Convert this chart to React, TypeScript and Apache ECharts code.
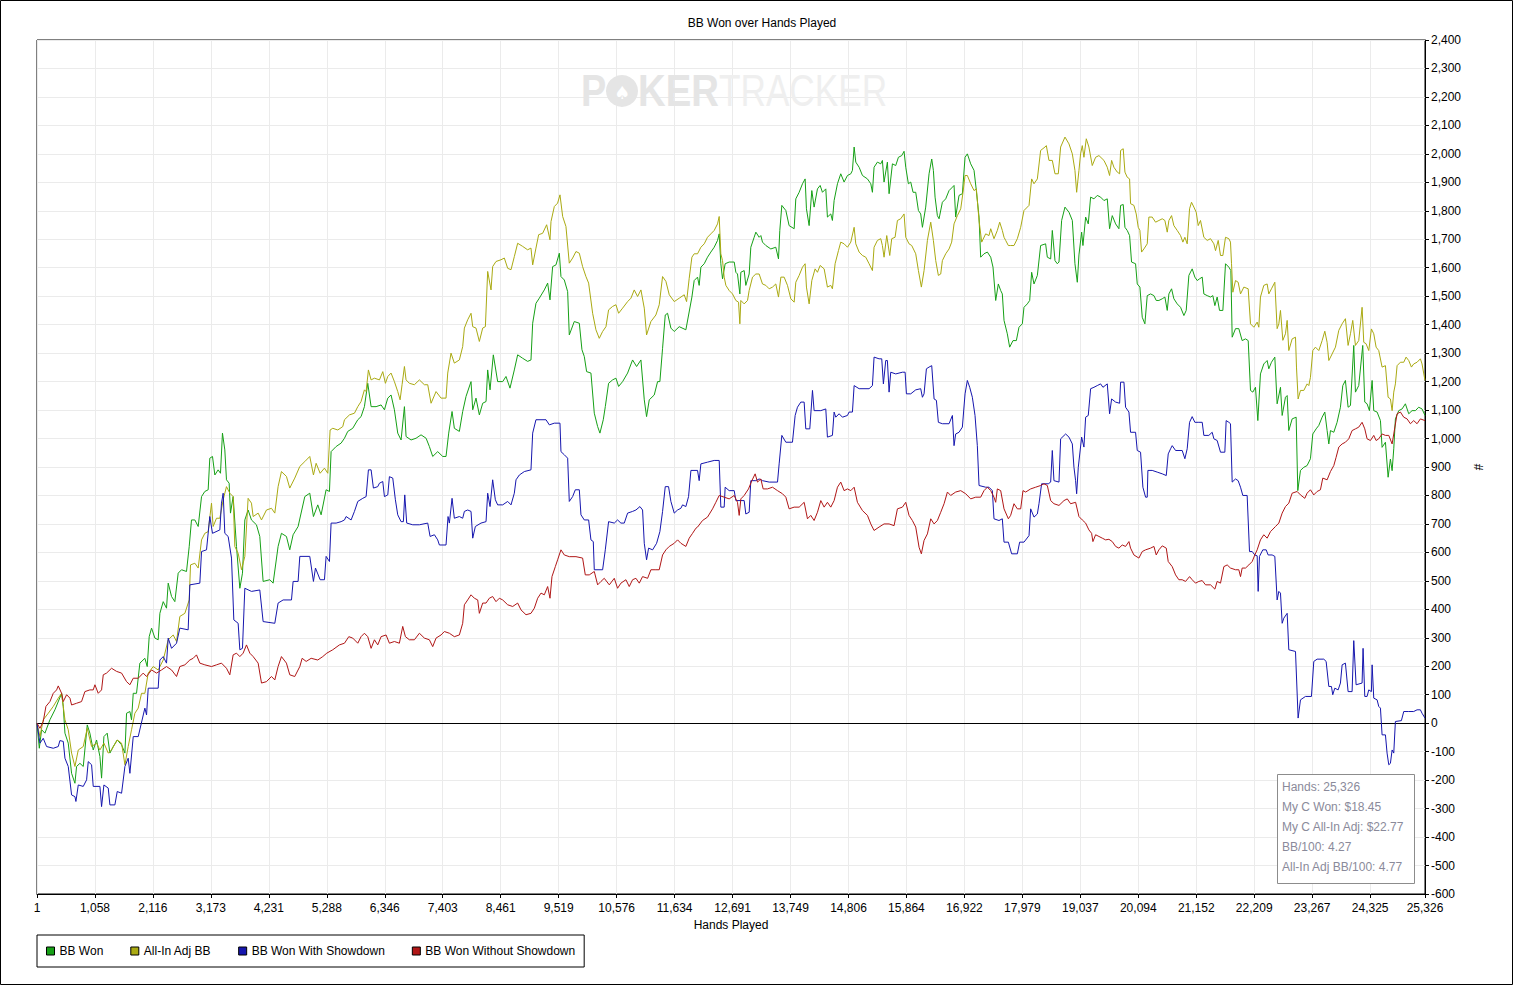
import React, { useEffect, useRef } from "react";
import * as echarts from "echarts";

const TITLE = "BB Won over Hands Played";
const X_NAME = "Hands Played";
const Y_NAME = "#";
const HANDS_MIN = 1;
const HANDS_MAX = 25326;
const HAND_TICK_STEP = 24324 / 23;
const Y_MIN = -600;
const Y_MAX = 2400;
const Y_STEP = 100;
const FONT = '"Liberation Sans", Arial, sans-serif';

const SERIES_NAMES = ["BB Won", "All-In Adj BB", "BB Won With Showdown", "BB Won Without Showdown"];
const SERIES_COLORS = ["#16a016", "#aaaa12", "#1616ae", "#b01616"];

const INFO_LINES = [
  "Hands: 25,326",
  "My C Won: $18.45",
  "My C All-In Adj: $22.77",
  "BB/100: 4.27",
  "All-In Adj BB/100: 4.77",
];

// [hand, BB]
const BB_WON: [number, number][] = [
  [1, 0], [43, -88], [85, -23], [146, -35], [237, 12], [328, 47], [450, 105], [480, 59], [511, -35], [571, -70],
  [632, -176], [693, -211], [723, -152], [784, -141], [845, -152], [918, -6], [966, -35], [1027, -94], [1088, -59],
  [1149, -117], [1179, -193], [1222, -47], [1282, -35], [1331, -105], [1392, -82], [1465, -59], [1544, -76],
  [1605, -105], [1635, 35], [1696, 41], [1726, 12], [1757, 105], [1817, 105], [1878, 211], [1969, 228], [2012, 199],
  [2048, 304], [2091, 334], [2152, 299], [2212, 293], [2243, 386], [2304, 427], [2364, 404], [2395, 492], [2456, 445],
  [2516, 427], [2577, 527], [2638, 539], [2729, 533], [2778, 620], [2820, 714], [2881, 714], [2942, 691], [3003, 796],
  [3063, 814], [3124, 820], [3154, 931], [3203, 937], [3246, 872], [3306, 890], [3349, 878], [3385, 1019], [3428, 960],
  [3458, 855], [3507, 843], [3531, 738], [3580, 796], [3641, 621], [3702, 474], [3750, 527], [3793, 714], [3853, 749],
  [3914, 714], [4005, 697], [4066, 656], [4127, 498], [4249, 504], [4309, 492], [4400, 621], [4461, 667], [4552, 656],
  [4613, 609], [4674, 662], [4765, 691], [4887, 796], [4978, 808],
  [5045, 726], [5124, 767], [5185, 732], [5276, 820], [5337, 814], [5367, 954], [5459, 972], [5550, 984], [5611, 1001],
  [5671, 1025], [5762, 1036], [5854, 1066], [5914, 1077], [5975, 1112], [6036, 1194], [6097, 1112], [6188, 1112],
  [6279, 1118], [6340, 1101], [6401, 1142], [6461, 1153], [6522, 1101], [6583, 1019], [6644, 995], [6705, 1112],
  [6735, 1007], [6826, 995], [6917, 1001], [7008, 1013], [7100, 1001], [7160, 972], [7221, 937], [7312, 954],
  [7404, 937], [7464, 937], [7513, 1019], [7574, 1095], [7616, 1036], [7707, 1025], [7768, 1095], [7829, 1148],
  [7920, 1200], [7951, 1101], [8011, 1142], [8072, 1083], [8133, 1124], [8194, 1130], [8224, 1241], [8267, 1171],
  [8327, 1294], [8406, 1200], [8498, 1200], [8558, 1218], [8631, 1177], [8710, 1241], [8771, 1294], [8862, 1282],
  [8953, 1271], [9014, 1276], [9045, 1405], [9105, 1475], [9166, 1493], [9257, 1522], [9318, 1546], [9361, 1487],
  [9409, 1604], [9470, 1610], [9531, 1651], [9561, 1569], [9622, 1557], [9683, 1516], [9713, 1364], [9804, 1411],
  [9896, 1405], [9944, 1312], [9987, 1288], [10029, 1235], [10108, 1230], [10169, 1089], [10230, 1042], [10272, 1019],
  [10333, 1066], [10370, 1112], [10430, 1194], [10503, 1206], [10564, 1212], [10613, 1183], [10686, 1200],
  [10777, 1230], [10868, 1276], [10941, 1253], [11020, 1276], [11081, 1136], [11123, 1077], [11172, 1136],
  [11263, 1153], [11324, 1200], [11366, 1200], [11415, 1317], [11464, 1434], [11506, 1440], [11567, 1388],
  [11628, 1376], [11719, 1393], [11840, 1382], [11950, 1497], [11992, 1555], [12053, 1567], [12083, 1538],
  [12114, 1602], [12175, 1614], [12235, 1637], [12296, 1655], [12357, 1672], [12418, 1696], [12448, 1719],
  [12478, 1614], [12509, 1561], [12557, 1614], [12630, 1620], [12722, 1620], [12752, 1584], [12782, 1578],
  [12825, 1508], [12843, 1584], [12904, 1590], [12934, 1538], [12995, 1578], [13025, 1672], [13086, 1707],
  [13117, 1725], [13177, 1707], [13208, 1713], [13238, 1690], [13299, 1678], [13390, 1666], [13481, 1672],
  [13530, 1631], [13554, 1731], [13591, 1819], [13664, 1801], [13724, 1748], [13816, 1737], [13846, 1842],
  [13907, 1865], [13968, 1895], [14016, 1912], [14040, 1807], [14089, 1748], [14138, 1871], [14180, 1813],
  [14241, 1877], [14290, 1889], [14332, 1865], [14393, 1877], [14423, 1778], [14484, 1789], [14514, 1766],
  [14545, 1836], [14606, 1895], [14666, 1930], [14727, 1901], [14788, 1924], [14849, 1930], [14879, 1942],
  [14910, 2024], [14940, 1971], [15001, 1953], [15062, 1924], [15153, 1912], [15214, 1895], [15244, 1865],
  [15274, 1953], [15335, 1971], [15396, 1965], [15426, 1977], [15456, 1901], [15517, 1971], [15548, 1860],
  [15609, 1965], [15669, 1959], [15718, 1988], [15779, 1994], [15821, 2009], [15852, 1953], [15900, 1895],
  [15943, 1901], [15985, 1865], [16034, 1865], [16083, 1801], [16125, 1789], [16156, 1742], [16216, 1813],
  [16277, 1930], [16326, 1982], [16356, 1942], [16387, 1848], [16429, 1783], [16460, 1772], [16520, 1830],
  [16581, 1842], [16642, 1871], [16703, 1883], [16733, 1889], [16763, 1778], [16824, 1854], [16885, 1860],
  [16934, 1988], [16976, 2000], [17037, 1965], [17098, 1942], [17140, 1871], [17189, 1778], [17219, 1637],
  [17280, 1649], [17341, 1655], [17402, 1637], [17444, 1602], [17493, 1485], [17541, 1543], [17584, 1520],
  [17614, 1508], [17645, 1415], [17705, 1368], [17748, 1321], [17809, 1344], [17870, 1344], [17918, 1391],
  [17979, 1403], [18009, 1461], [18070, 1473], [18113, 1485], [18149, 1584], [18192, 1543], [18253, 1573],
  [18313, 1678], [18404, 1684], [18435, 1637], [18496, 1631], [18526, 1731], [18575, 1625], [18617, 1614],
  [18648, 1620], [18696, 1766], [18757, 1813], [18830, 1795], [18891, 1766], [18939, 1614], [18982, 1549],
  [19012, 1645], [19061, 1725], [19085, 1678], [19134, 1778], [19182, 1754], [19225, 1848], [19286, 1842],
  [19346, 1854], [19407, 1848], [19468, 1836], [19529, 1842], [19571, 1737], [19620, 1783], [19681, 1754],
  [19741, 1737], [19772, 1819], [19820, 1822], [19851, 1742], [19893, 1731], [19936, 1713], [19972, 1620],
  [20045, 1614], [20076, 1543], [20124, 1532], [20167, 1426], [20215, 1403], [20258, 1502], [20319, 1508],
  [20380, 1502], [20422, 1485], [20471, 1485], [20532, 1491], [20580, 1497], [20623, 1450], [20653, 1508],
  [20702, 1526], [20744, 1491], [20805, 1473], [20866, 1461], [20927, 1432], [20969, 1450], [21018, 1573],
  [21078, 1596], [21127, 1567], [21170, 1555], [21212, 1561], [21261, 1567], [21291, 1508], [21352, 1502],
  [21413, 1497], [21455, 1502], [21492, 1467], [21534, 1497], [21577, 1450], [21638, 1450], [21686, 1614],
  [21747, 1602], [21784, 1590], [21808, 1356], [21869, 1386], [21929, 1386], [21990, 1344], [22051, 1350],
  [22100, 1344], [22142, 1169], [22185, 1163], [22233, 1180], [22276, 1063], [22324, 1227], [22385, 1262],
  [22446, 1274], [22476, 1245], [22525, 1268], [22586, 1286], [22628, 1122], [22689, 1180], [22720, 1081],
  [22780, 1145], [22811, 1151], [22841, 1028], [22902, 1069], [22975, 1075], [23005, 817], [23054, 888],
  [23115, 899], [23175, 905], [23236, 929], [23279, 1016], [23340, 1034], [23388, 1046], [23449, 1075],
  [23498, 1093], [23540, 1028], [23571, 981], [23601, 1028], [23662, 1022], [23722, 1057], [23783, 1110],
  [23826, 1186], [23874, 1204], [23923, 1110], [23966, 1116], [24026, 1327], [24057, 1163], [24117, 1186],
  [24190, 1327], [24227, 1128], [24269, 1122], [24312, 1098], [24361, 1204], [24391, 1098], [24452, 1093],
  [24513, 1063], [24543, 969], [24604, 987], [24653, 864], [24695, 928], [24726, 887], [24756, 964], [24786, 1069],
  [24847, 1098], [24908, 1104], [24968, 1122], [25029, 1087], [25090, 1098], [25151, 1098], [25211, 1110],
  [25272, 1104], [25326, 1081],
];

const ALL_IN_ADJ: [number, number][] = [
  [1, 0], [55, -47], [115, 12], [207, 35], [298, 59], [389, 88], [450, 105], [511, 12], [571, -23], [632, -105],
  [693, -152], [754, -94], [845, -82], [918, -18], [997, -82], [1088, -70], [1149, -94], [1222, -70], [1301, -105],
  [1361, -94], [1465, -59], [1544, -70], [1605, -146], [1665, -82], [1726, -23], [1787, 35], [1848, 53], [1908, 105],
  [1969, 105], [2030, 176], [2121, 199], [2212, 187], [2304, 222], [2395, 293], [2486, 310], [2547, 287], [2607, 375],
  [2699, 386], [2778, 433], [2802, 556], [2881, 562], [2942, 545], [3003, 644], [3063, 667], [3124, 673], [3185, 773],
  [3215, 691], [3276, 720], [3337, 720], [3398, 785], [3458, 831], [3519, 808], [3580, 796], [3610, 621], [3671, 597],
  [3732, 539], [3793, 586], [3853, 790], [3914, 773], [3945, 726], [4036, 738], [4097, 714], [4188, 749], [4279, 755],
  [4340, 738], [4400, 831], [4461, 884], [4552, 867], [4613, 826], [4704, 861], [4796, 902], [4887, 919], [4978, 937],
  [5045, 872], [5094, 913], [5167, 878], [5246, 896], [5307, 878], [5349, 1030], [5398, 1036], [5489, 1030],
  [5580, 1042], [5611, 1066], [5702, 1083], [5793, 1089], [5854, 1112], [5914, 1130], [5975, 1171], [6006, 1165],
  [6048, 1241], [6097, 1206], [6158, 1212], [6249, 1206], [6310, 1235], [6358, 1194], [6401, 1218], [6461, 1230],
  [6522, 1200], [6583, 1165], [6626, 1136], [6662, 1189], [6705, 1253], [6735, 1206], [6796, 1194], [6887, 1189],
  [6978, 1206], [7069, 1189], [7130, 1189], [7191, 1124], [7282, 1165], [7373, 1142], [7464, 1142], [7495, 1230],
  [7555, 1300], [7616, 1265], [7707, 1276], [7768, 1323], [7799, 1388], [7859, 1417], [7920, 1440], [7951, 1393],
  [8011, 1388], [8072, 1341], [8133, 1388], [8182, 1393], [8224, 1587], [8285, 1522], [8315, 1604], [8376, 1622],
  [8467, 1628], [8528, 1634], [8589, 1598], [8650, 1593], [8710, 1639], [8771, 1686], [8862, 1675], [8953, 1663],
  [9014, 1669], [9045, 1610], [9105, 1669], [9154, 1716], [9227, 1721], [9300, 1751], [9361, 1698], [9379, 1762],
  [9440, 1815], [9500, 1827], [9543, 1856], [9592, 1780], [9652, 1745], [9713, 1616], [9774, 1634], [9835, 1657],
  [9896, 1651], [9956, 1604], [10017, 1569], [10066, 1546], [10139, 1440], [10199, 1382], [10260, 1352],
  [10321, 1376], [10382, 1393], [10430, 1452], [10503, 1464], [10564, 1470], [10613, 1440], [10686, 1458],
  [10777, 1481], [10838, 1493], [10898, 1522], [10959, 1499], [11020, 1522], [11081, 1458], [11123, 1364],
  [11202, 1411], [11293, 1434], [11354, 1470], [11415, 1569], [11476, 1552], [11537, 1505], [11628, 1481],
  [11719, 1493], [11810, 1505], [11853, 1481], [11901, 1563], [11950, 1637], [11992, 1649], [12053, 1649],
  [12114, 1672], [12175, 1684], [12235, 1707], [12296, 1719], [12357, 1731], [12418, 1754], [12448, 1780],
  [12478, 1649], [12509, 1625], [12539, 1567], [12570, 1538], [12630, 1520], [12691, 1508], [12752, 1485],
  [12801, 1479], [12825, 1403], [12843, 1485], [12904, 1473], [12965, 1485], [12995, 1520], [13056, 1567],
  [13117, 1578], [13177, 1578], [13238, 1543], [13299, 1538], [13360, 1526], [13421, 1532], [13481, 1543],
  [13530, 1497], [13573, 1567], [13633, 1567], [13694, 1538], [13755, 1491], [13816, 1479], [13846, 1549],
  [13907, 1573], [13968, 1602], [14016, 1614], [14040, 1532], [14089, 1473], [14138, 1555], [14198, 1596],
  [14241, 1584], [14290, 1608], [14363, 1596], [14423, 1532], [14484, 1538], [14514, 1526], [14563, 1614],
  [14624, 1660], [14666, 1690], [14727, 1684], [14788, 1672], [14849, 1690], [14910, 1742], [14940, 1684],
  [15001, 1655], [15062, 1643], [15122, 1637], [15183, 1614], [15244, 1590], [15274, 1672], [15335, 1696],
  [15396, 1702], [15426, 1678], [15456, 1637], [15505, 1713], [15560, 1643], [15596, 1702], [15657, 1707],
  [15700, 1766], [15760, 1772], [15821, 1789], [15852, 1707], [15912, 1684], [15961, 1678], [16034, 1649],
  [16083, 1590], [16137, 1532], [16186, 1590], [16247, 1696], [16308, 1760], [16356, 1696], [16399, 1625],
  [16447, 1573], [16490, 1578], [16520, 1625], [16581, 1649], [16642, 1666], [16690, 1690], [16733, 1754],
  [16794, 1783], [16855, 1807], [16897, 1865], [16934, 1924], [16976, 1924], [17037, 1895], [17098, 1871],
  [17140, 1877], [17189, 1766], [17238, 1690], [17310, 1719], [17371, 1713], [17402, 1737], [17462, 1702],
  [17523, 1731], [17566, 1760], [17614, 1731], [17645, 1707], [17675, 1696], [17724, 1678], [17766, 1678],
  [17827, 1678], [17888, 1702], [17949, 1742], [18009, 1801], [18101, 1819], [18149, 1912], [18192, 1895],
  [18253, 1912], [18313, 2012], [18392, 2024], [18417, 2029], [18465, 1977], [18526, 1977], [18575, 1930],
  [18635, 1930], [18678, 2024], [18757, 2059], [18830, 2035], [18891, 2000], [18939, 1942], [18970, 1865],
  [19012, 1942], [19042, 2000], [19073, 2029], [19103, 1988], [19146, 2053], [19194, 2024], [19255, 1959],
  [19316, 1988], [19377, 1994], [19468, 1977], [19529, 1953], [19571, 1924], [19608, 1977], [19650, 1953],
  [19711, 1936], [19754, 1930], [19772, 2012], [19820, 2018], [19851, 1936], [19893, 1918], [19936, 1912],
  [19954, 1825], [20015, 1819], [20057, 1789], [20094, 1742], [20124, 1731], [20155, 1655], [20197, 1666],
  [20258, 1684], [20288, 1778], [20349, 1778], [20410, 1760], [20471, 1766], [20532, 1772], [20580, 1766],
  [20623, 1725], [20653, 1766], [20702, 1783], [20744, 1748], [20805, 1731], [20866, 1713], [20908, 1690],
  [20945, 1707], [20987, 1684], [21030, 1807], [21066, 1830], [21109, 1813], [21152, 1795], [21188, 1748],
  [21230, 1766], [21291, 1707], [21352, 1696], [21413, 1702], [21474, 1684], [21504, 1660], [21553, 1696],
  [21595, 1643], [21638, 1643], [21686, 1707], [21747, 1702], [21777, 1690], [21796, 1614], [21820, 1514],
  [21869, 1555], [21917, 1549], [21960, 1508], [22021, 1532], [22100, 1526], [22142, 1403], [22203, 1391],
  [22264, 1409], [22294, 1391], [22324, 1497], [22385, 1538], [22446, 1543], [22476, 1508], [22525, 1526],
  [22586, 1549], [22628, 1386], [22659, 1403], [22689, 1450], [22732, 1345], [22780, 1368], [22811, 1415],
  [22841, 1309], [22902, 1350], [22963, 1356], [22981, 1251], [23011, 1139], [23054, 1169], [23115, 1169],
  [23175, 1192], [23206, 1186], [23236, 1215], [23279, 1309], [23327, 1321], [23388, 1309], [23449, 1344],
  [23498, 1377], [23540, 1338], [23571, 1274], [23631, 1297], [23692, 1321], [23753, 1380], [23814, 1403],
  [23874, 1421], [23923, 1327], [23966, 1368], [24008, 1415], [24057, 1327], [24117, 1344], [24178, 1461],
  [24209, 1338], [24251, 1333], [24300, 1309], [24348, 1385], [24391, 1368], [24434, 1321], [24482, 1309],
  [24543, 1251], [24604, 1256], [24653, 1145], [24695, 1139], [24726, 1098], [24756, 1163], [24786, 1192],
  [24817, 1256], [24877, 1268], [24938, 1268], [24981, 1286], [25029, 1274], [25078, 1251], [25120, 1262],
  [25181, 1268], [25242, 1280], [25272, 1262], [25326, 1204],
];

const WITH_SHOWDOWN: [number, number][] = [
  [1, 0], [55, -70], [115, -53], [176, -82], [298, -88], [389, -82], [419, -61], [480, -64], [511, -123], [571, -152],
  [632, -252], [693, -258], [711, -275], [754, -217], [845, -222], [906, -199], [936, -135], [997, -146], [1027, -222],
  [1149, -222], [1179, -293], [1222, -217], [1301, -228], [1331, -287], [1422, -287], [1465, -240], [1544, -246],
  [1605, -152], [1665, -123], [1696, -176], [1757, -47], [1848, -47], [1969, 53], [2000, 29], [2030, 123], [2212, 123],
  [2243, 222], [2304, 234], [2364, 211], [2395, 299], [2456, 263], [2547, 281], [2607, 334], [2759, 328], [2790, 486],
  [2972, 492], [3003, 603], [3094, 609], [3154, 726], [3203, 667], [3337, 679], [3367, 773], [3398, 808], [3428, 667],
  [3489, 656], [3550, 580], [3592, 363], [3671, 351], [3702, 258], [3750, 263], [3793, 474], [3914, 463], [4066, 468],
  [4127, 357], [4340, 351], [4400, 422], [4492, 433], [4644, 433], [4674, 498], [4765, 498], [4796, 586], [4978, 586],
  [5045, 498], [5082, 545], [5167, 504], [5246, 504], [5276, 586], [5337, 568], [5367, 703], [5459, 703], [5550, 708],
  [5611, 714], [5641, 726], [5732, 714], [5793, 744], [5854, 779], [5945, 790], [6006, 796], [6048, 890], [6097, 890],
  [6139, 826], [6218, 831], [6249, 843], [6310, 849], [6340, 796], [6401, 802], [6431, 866], [6492, 861], [6540, 785],
  [6583, 732], [6644, 708], [6686, 708], [6711, 802], [6747, 703], [6857, 697], [6978, 697], [7130, 703], [7173, 656],
  [7252, 662], [7312, 644], [7343, 626], [7464, 626], [7501, 726], [7525, 703], [7574, 790], [7616, 720], [7707, 726],
  [7768, 720], [7799, 744], [7859, 749], [7920, 744], [7951, 650], [7999, 691], [8102, 703], [8194, 708], [8224, 808],
  [8267, 761], [8315, 855], [8364, 785], [8406, 767], [8498, 767], [8589, 779], [8650, 767], [8710, 808], [8741, 855],
  [8802, 872], [8893, 884], [9014, 890], [9045, 1019], [9105, 1066], [9288, 1066], [9349, 1048], [9440, 1054],
  [9543, 1054], [9561, 954], [9622, 943], [9683, 931], [9713, 779], [9774, 796], [9823, 820], [9896, 820], [9926, 732],
  [9987, 714], [10066, 714], [10108, 644], [10151, 638], [10169, 539], [10321, 539], [10370, 609], [10430, 708],
  [10534, 703], [10594, 714], [10655, 703], [10716, 703], [10777, 738], [10868, 744], [10929, 749], [11002, 761],
  [11050, 749], [11081, 632], [11123, 574], [11160, 615], [11233, 609], [11306, 632], [11366, 673], [11415, 744],
  [11464, 831], [11524, 831], [11567, 779], [11628, 738], [11689, 749], [11749, 755], [11780, 767], [11840, 761],
  [11889, 796], [11932, 888], [12053, 888], [12083, 852], [12114, 911], [12235, 917], [12357, 923], [12448, 923],
  [12478, 759], [12539, 759], [12557, 829], [12630, 817], [12722, 817], [12752, 782], [12904, 782], [12934, 735],
  [12995, 741], [13025, 852], [13117, 852], [13177, 858], [13238, 852], [13360, 847], [13512, 847], [13542, 911],
  [13591, 1011], [13664, 987], [13785, 987], [13834, 1081], [13876, 1110], [13937, 1128], [13998, 1128], [14028, 1034],
  [14101, 1034], [14150, 1169], [14180, 1098], [14302, 1098], [14393, 1104], [14423, 1005], [14514, 1011],
  [14545, 1093], [14575, 1075], [14636, 1087], [14697, 1075], [14788, 1081], [14818, 1093], [14879, 1093],
  [14910, 1186], [15001, 1175], [15183, 1175], [15244, 1186], [15274, 1286], [15365, 1280], [15414, 1280],
  [15444, 1192], [15487, 1274], [15517, 1274], [15548, 1163], [15578, 1233], [15669, 1227], [15791, 1233],
  [15840, 1233], [15864, 1157], [15943, 1157], [16034, 1171], [16125, 1175], [16156, 1145], [16186, 1157],
  [16229, 1245], [16277, 1251], [16326, 1256], [16369, 1139], [16411, 1134], [16447, 1057], [16520, 1052],
  [16642, 1052], [16703, 1081], [16733, 975], [16763, 1016], [16824, 1022], [16885, 1040], [16934, 1157],
  [16976, 1204], [17019, 1180], [17067, 1145], [17116, 1081], [17158, 975], [17189, 835], [17310, 829], [17371, 829],
  [17432, 817], [17462, 718], [17553, 712], [17614, 718], [17645, 636], [17724, 636], [17784, 595], [17888, 595],
  [17930, 636], [18009, 636], [18101, 659], [18131, 753], [18192, 724], [18253, 735], [18283, 771], [18331, 841],
  [18453, 841], [18496, 847], [18526, 958], [18556, 852], [18648, 847], [18678, 999], [18769, 1016], [18830, 1005],
  [18891, 981], [18921, 899], [18951, 852], [18970, 806], [19000, 899], [19061, 1005], [19103, 970], [19134, 1075],
  [19182, 1081], [19225, 1175], [19286, 1180], [19346, 1186], [19407, 1192], [19450, 1180], [19529, 1192],
  [19571, 1087], [19608, 1139], [19681, 1128], [19754, 1124], [19772, 1198], [19833, 1198], [19863, 1110],
  [19924, 1093], [19954, 1022], [20045, 1022], [20076, 958], [20136, 952], [20179, 829], [20228, 794], [20258, 794],
  [20270, 888], [20349, 888], [20440, 882], [20532, 876], [20605, 870], [20641, 946], [20684, 964], [20714, 975],
  [20775, 958], [20896, 958], [20945, 929], [20987, 964], [21030, 1057], [21078, 1077], [21127, 1057], [21200, 1057],
  [21261, 1057], [21291, 1011], [21382, 1011], [21443, 1022], [21474, 999], [21534, 993], [21595, 952], [21674, 952],
  [21698, 1063], [21747, 1057], [21777, 1052], [21808, 847], [21869, 858], [21917, 852], [21960, 829], [22002, 800],
  [22081, 800], [22124, 603], [22173, 603], [22221, 591], [22264, 588], [22282, 463], [22306, 586], [22367, 609],
  [22428, 609], [22464, 591], [22537, 591], [22586, 586], [22628, 433], [22659, 463], [22689, 457], [22720, 351],
  [22750, 369], [22811, 386], [22841, 258], [22963, 252], [23011, 18], [23054, 82], [23145, 94], [23254, 94],
  [23297, 217], [23358, 225], [23479, 225], [23522, 217], [23571, 129], [23619, 129], [23643, 100], [23680, 123],
  [23741, 117], [23783, 141], [23814, 205], [23874, 211], [23923, 111], [23996, 111], [24026, 290], [24069, 135],
  [24178, 141], [24196, 263], [24227, 94], [24269, 94], [24300, 117], [24348, 111], [24361, 205], [24391, 88],
  [24452, 82], [24482, 59], [24513, 53], [24543, -41], [24604, -41], [24634, -105], [24665, -146], [24695, -141],
  [24726, -94], [24756, -105], [24786, 6], [24895, 9], [24938, 41], [25029, 41], [25120, 41], [25181, 47],
  [25242, 47], [25272, 35], [25326, 18],
];

const WITHOUT_SHOWDOWN: [number, number][] = [
  [1, 0], [55, -18], [115, 6], [164, 59], [237, 76], [298, 105], [359, 117], [389, 131], [450, 105], [480, 76],
  [541, 100], [602, 88], [632, 64], [723, 70], [814, 76], [875, 111], [966, 117], [1027, 117], [1058, 135],
  [1118, 105], [1179, 117], [1210, 170], [1270, 176], [1361, 193], [1453, 182], [1544, 176], [1635, 146], [1696, 135],
  [1757, 158], [1848, 158], [1939, 176], [2000, 164], [2091, 187], [2182, 176], [2273, 187], [2364, 199], [2456, 187],
  [2547, 164], [2607, 199], [2699, 205], [2790, 222], [2851, 228], [2911, 240], [2972, 211], [3063, 205], [3185, 199],
  [3276, 205], [3367, 211], [3458, 193], [3519, 170], [3580, 240], [3641, 246], [3702, 234], [3762, 246], [3823, 275],
  [3884, 246], [3945, 234], [4036, 211], [4097, 141], [4188, 146], [4279, 164], [4340, 152], [4400, 199], [4461, 234],
  [4552, 211], [4613, 170], [4704, 164], [4796, 199], [4839, 228], [4912, 217], [5003, 228], [5124, 222], [5215, 234],
  [5288, 246], [5398, 258], [5519, 275], [5611, 281], [5690, 304], [5762, 299], [5854, 281], [5914, 304], [5975, 316],
  [6036, 304], [6097, 263], [6158, 293], [6218, 275], [6279, 304], [6370, 310], [6431, 281], [6522, 287], [6613, 281],
  [6674, 340], [6723, 304], [6796, 293], [6887, 293], [6978, 316], [7069, 299], [7160, 293], [7221, 269], [7282, 299],
  [7373, 310], [7434, 322], [7525, 316], [7616, 304], [7707, 310], [7768, 351], [7799, 416], [7859, 433], [7920, 451],
  [7981, 439], [8042, 433], [8072, 386], [8133, 422], [8194, 422], [8254, 439], [8315, 445], [8376, 427], [8437, 439],
  [8498, 433], [8589, 416], [8680, 410], [8771, 422], [8832, 398], [8923, 381], [9014, 386], [9075, 404], [9136, 439],
  [9197, 457], [9257, 451], [9318, 480], [9361, 439], [9397, 515], [9458, 550], [9500, 574], [9561, 609], [9622, 591],
  [9713, 585], [9835, 585], [9956, 580], [10005, 521], [10078, 521], [10169, 533], [10230, 486], [10291, 498],
  [10351, 509], [10443, 486], [10534, 509], [10594, 474], [10655, 492], [10746, 504], [10807, 480], [10868, 504],
  [10929, 509], [10990, 492], [11050, 515], [11142, 509], [11202, 539], [11293, 539], [11354, 539], [11415, 591],
  [11476, 609], [11537, 621], [11628, 632], [11689, 644], [11749, 632], [11840, 621], [11901, 650], [11962, 667],
  [12023, 685], [12053, 689], [12144, 712], [12235, 724], [12327, 753], [12387, 776], [12448, 800], [12539, 794],
  [12630, 788], [12722, 800], [12782, 776], [12813, 730], [12843, 788], [12904, 800], [12983, 823], [13044, 852],
  [13104, 876], [13147, 847], [13208, 858], [13250, 823], [13329, 823], [13421, 829], [13512, 817], [13603, 806],
  [13664, 794], [13724, 753], [13816, 759], [13907, 759], [13998, 776], [14059, 718], [14119, 730], [14180, 712],
  [14241, 741], [14302, 782], [14363, 759], [14423, 776], [14484, 759], [14545, 782], [14606, 829], [14666, 847],
  [14727, 817], [14788, 823], [14849, 817], [14910, 829], [14970, 776], [15062, 747], [15153, 730], [15214, 700],
  [15274, 677], [15365, 689], [15456, 700], [15548, 700], [15639, 694], [15700, 753], [15791, 759], [15852, 776],
  [15912, 730], [15973, 712], [16034, 689], [16095, 618], [16137, 595], [16186, 642], [16247, 665], [16308, 718],
  [16369, 700], [16429, 712], [16490, 741], [16551, 771], [16612, 812], [16672, 800], [16763, 812], [16855, 817],
  [16946, 806], [17037, 788], [17128, 794], [17219, 794], [17280, 817], [17341, 829], [17402, 817], [17462, 794],
  [17493, 776], [17523, 823], [17584, 817], [17645, 753], [17724, 718], [17766, 730], [17827, 771], [17888, 753],
  [17949, 753], [17991, 817], [18040, 812], [18131, 823], [18222, 829], [18313, 835], [18374, 841], [18435, 835],
  [18496, 782], [18556, 771], [18648, 765], [18739, 782], [18799, 788], [18860, 771], [18951, 776], [19012, 726],
  [19073, 714], [19134, 703], [19194, 679], [19243, 667], [19267, 638], [19316, 662], [19377, 656], [19438, 650],
  [19498, 644], [19559, 646], [19620, 638], [19681, 621], [19741, 615], [19802, 626], [19863, 621], [19924, 638],
  [19954, 615], [20015, 591], [20106, 580], [20167, 603], [20228, 609], [20319, 615], [20380, 621], [20422, 591],
  [20471, 609], [20532, 623], [20605, 615], [20641, 568], [20714, 550], [20775, 521], [20835, 504], [20896, 504],
  [20957, 498], [21030, 515], [21078, 504], [21139, 492], [21200, 498], [21261, 501], [21322, 486], [21413, 486],
  [21492, 471], [21534, 498], [21595, 492], [21656, 550], [21717, 556], [21777, 545], [21869, 539], [21929, 539],
  [21960, 515], [21990, 545], [22051, 545], [22112, 556], [22173, 568], [22221, 591], [22264, 609], [22324, 644],
  [22385, 662], [22446, 650], [22507, 673], [22598, 691], [22659, 703], [22720, 738], [22780, 761], [22841, 773],
  [22902, 808], [22993, 814], [23054, 802], [23133, 790], [23175, 808], [23236, 820], [23297, 802], [23358, 814],
  [23418, 820], [23461, 861], [23540, 855], [23601, 884], [23662, 905], [23704, 934], [23753, 970], [23814, 981],
  [23874, 987], [23935, 999], [23996, 1028], [24057, 1034], [24117, 1040], [24178, 1057], [24227, 1034], [24269, 999],
  [24330, 993], [24391, 1011], [24434, 993], [24482, 999], [24543, 1016], [24604, 1011], [24665, 1011], [24726, 981],
  [24756, 1016], [24817, 1087], [24877, 1093], [24938, 1075], [24999, 1069], [25060, 1052], [25120, 1063],
  [25181, 1052], [25242, 1069], [25326, 1063],
];

const SERIES_DATA = [BB_WON, ALL_IN_ADJ, WITH_SHOWDOWN, WITHOUT_SHOWDOWN];

export default function App() {
  const ref = useRef<HTMLDivElement>(null);

  useEffect(() => {
    document.body.style.margin = "0";
    if (!ref.current) return;
    const chart = echarts.init(ref.current, null, { renderer: "svg" });

    const textBase = { fontFamily: FONT, fontSize: 12, color: "#000" };

    const series: any[] = SERIES_NAMES.map((name, i) => ({
      name,
      type: "line",
      data: SERIES_DATA[i],
      showSymbol: false,
      symbol: "none",
      color: SERIES_COLORS[i],
      lineStyle: { color: SERIES_COLORS[i], width: 1 },
      emphasis: { disabled: true },
      silent: true,
      z: 3 + i,
      animation: false,
    }));
    series[0].markLine = {
      silent: true,
      symbol: ["none", "none"],
      label: { show: false },
      lineStyle: { color: "#000", width: 1, type: "solid" },
      data: [{ yAxis: 0 }],
      animation: false,
    };

    const graphic: any[] = [
      {
        type: "rect",
        silent: true,
        z: 0,
        shape: { x: 0.5, y: 0.5, width: 1512, height: 984 },
        style: { fill: "none", stroke: "#000", lineWidth: 1 },
      },
      {
        type: "text",
        x: 762,
        y: 22.5,
        silent: true,
        style: { text: TITLE, fontFamily: FONT, fontSize: 12, fill: "#000", align: "center", verticalAlign: "middle" },
      },
      // watermark
      {
        type: "text",
        x: 581,
        y: 91,
        z: 1,
        silent: true,
        scaleX: 0.86,
        style: { text: "P", fontFamily: FONT, fontSize: 44, fontWeight: "bold", fill: "#e5e5e5", verticalAlign: "middle" },
      },
      {
        type: "circle",
        z: 1,
        silent: true,
        shape: { cx: 622, cy: 91, r: 16 },
        style: { fill: "#e5e5e5" },
      },
      {
        type: "text",
        x: 622,
        y: 92,
        z: 1,
        silent: true,
        style: { text: "\u2660", fontFamily: '"DejaVu Sans"', fontSize: 18, fill: "#ffffff", align: "center", verticalAlign: "middle" },
      },
      {
        type: "text",
        x: 638,
        y: 91,
        z: 1,
        silent: true,
        scaleX: 0.87,
        style: { text: "KER", fontFamily: FONT, fontSize: 44, fontWeight: "bold", fill: "#e5e5e5", verticalAlign: "middle" },
      },
      {
        type: "text",
        x: 719,
        y: 91,
        z: 1,
        silent: true,
        scaleX: 0.8,
        style: { text: "TRACKER", fontFamily: FONT, fontSize: 44, fill: "#efefef", verticalAlign: "middle" },
      },
      // info box
      {
        type: "rect",
        z: 20,
        silent: true,
        shape: { x: 1277.5, y: 774.5, width: 137, height: 109 },
        style: { fill: "#ffffff", stroke: "#8c8c8c", lineWidth: 1 },
      },
      ...INFO_LINES.map((t, i) => ({
        type: "text",
        x: 1282,
        y: 787 + i * 20,
        z: 21,
        silent: true,
        style: { text: t, fontFamily: FONT, fontSize: 12, fill: "#8a8a9a", verticalAlign: "middle" },
      })),
    ];

    chart.setOption({
      animation: false,
      backgroundColor: "#ffffff",
      grid: {
        left: 37,
        right: 88,
        top: 40,
        bottom: 91,
        show: true,
        borderColor: "#000",
        borderWidth: 1,
        backgroundColor: "transparent",
        containLabel: false,
        outerBoundsMode: "none",
      },
      xAxis: {
        type: "value",
        min: HANDS_MIN,
        max: HANDS_MAX,
        interval: HAND_TICK_STEP,
        name: X_NAME,
        nameLocation: "middle",
        nameGap: 25,
        nameTextStyle: textBase,
        axisLine: { show: true, onZero: false, lineStyle: { color: "#000", width: 1 } },
        axisTick: { show: true, length: 4, lineStyle: { color: "#000" } },
        axisLabel: {
          ...textBase,
          margin: 8,
          showMinLabel: true,
          showMaxLabel: true,
          hideOverlap: false,
          formatter: (v: number) => Math.floor(v + 0.01).toLocaleString("en-US"),
        },
        splitLine: { show: true, lineStyle: { color: "#ebebeb", width: 1 } },
      },
      yAxis: {
        type: "value",
        position: "right",
        min: Y_MIN,
        max: Y_MAX,
        interval: Y_STEP,
        name: Y_NAME,
        nameLocation: "middle",
        nameGap: 45,
        nameRotate: -90,
        nameTextStyle: textBase,
        axisLine: { show: true, lineStyle: { color: "#000", width: 1 } },
        axisTick: { show: true, length: 4, lineStyle: { color: "#000" } },
        axisLabel: {
          ...textBase,
          margin: 6,
          showMinLabel: true,
          showMaxLabel: true,
          formatter: (v: number) => v.toLocaleString("en-US"),
        },
        splitLine: { show: true, lineStyle: { color: "#ebebeb", width: 1 } },
      },
      legend: {
        left: 37,
        top: 935,
        orient: "horizontal",
        icon: "rect",
        itemWidth: 8,
        itemHeight: 8,
        itemGap: 27,
        padding: [10, 9, 10, 9],
        borderColor: "#000",
        borderWidth: 1,
        backgroundColor: "#ffffff",
        selectedMode: false,
        textStyle: textBase,
        itemStyle: { borderColor: "#000", borderWidth: 1 },
        data: SERIES_NAMES,
      },
      tooltip: { show: false },
      graphic,
      series,
    });

    return () => chart.dispose();
  }, []);

  return <div ref={ref} style={{ width: 1513, height: 985 }} />;
}
